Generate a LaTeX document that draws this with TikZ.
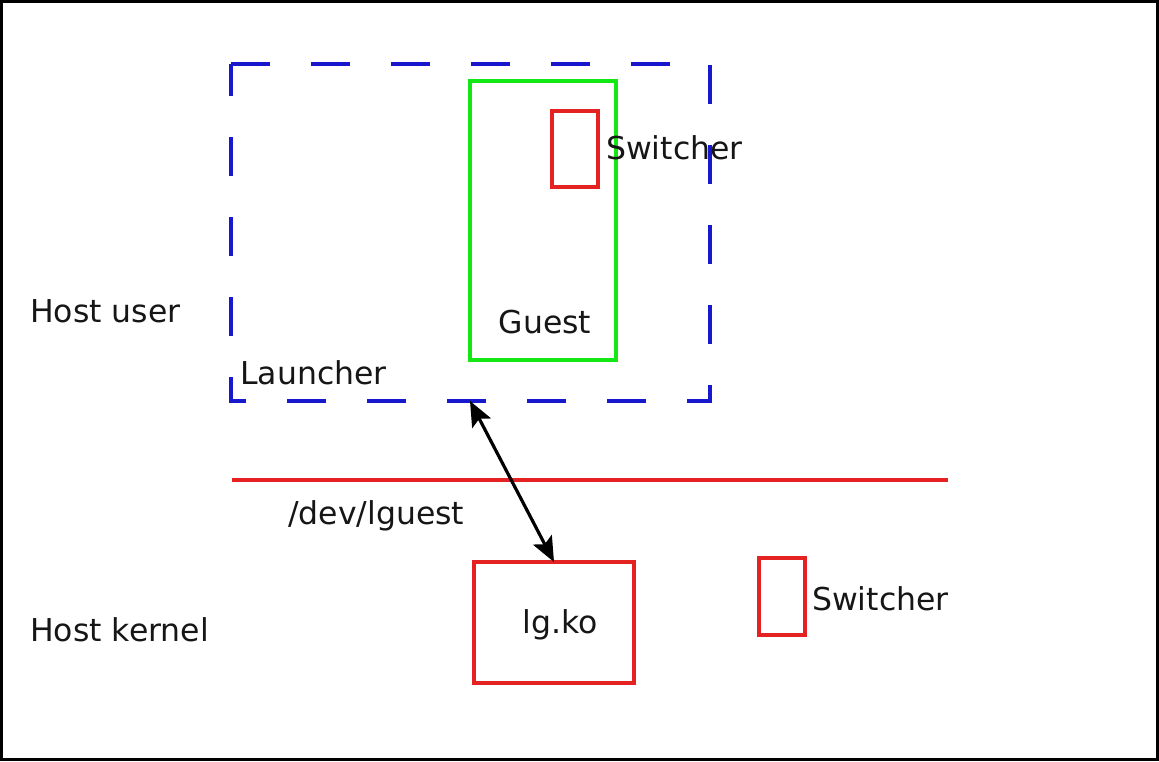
\documentclass[tikz,border=0pt]{standalone}
\usepackage{fontspec}
\setmainfont{DejaVu Sans}
\usepackage{xcolor}
\usepackage{tikz}
\usetikzlibrary{shapes,arrows,arrows.meta,calc}
\definecolor{launcherblue}{RGB}{24,24,205}
\definecolor{guestgreen}{RGB}{20,232,20}
\definecolor{switchred}{RGB}{228,34,34}
\definecolor{textgray}{RGB}{22,22,22}

\begin{document}
\begin{tikzpicture}[
    x=1pt, y=-1pt,
    box/.style={
      rectangle,
      draw,
      line width=3.2pt,
      inner sep=0pt,
      outer sep=0pt,
      anchor=north west
    },
    label/.style={
      inner sep=0pt,
      text=textgray,
      font=\fontsize{31.5}{37}\selectfont
    },
    line/.style={draw, line width=3.2pt},
    dashline/.style={draw=launcherblue, line width=3.6pt, dash pattern=on 39pt off 41pt},
    link/.style={draw, line width=3.2pt, {Stealth[length=25pt,width=21pt,inset=5pt]}-{Stealth[length=25pt,width=21pt,inset=5pt]}},
]
    \useasboundingbox (0,0) rectangle (1159,761);
    \draw [line width=3pt] (1.5,1.5) rectangle (1157.5,759.5);

    % user space
    \node [box, draw=none, minimum width=479pt, minimum height=337pt] (launcher) at (231,64) {};
    \path [dashline] (launcher.north west) -- (launcher.north east) -- (launcher.south east)
      -- (launcher.south west) -- cycle;
    \node [box, draw=guestgreen, minimum width=146pt, minimum height=279pt] (guest) at (470,81) {};
    \node [box, draw=switchred, minimum width=46pt, minimum height=76pt] (switchup) at (552,111) {};

    % user/kernel boundary
    \coordinate (bordera) at (232,480);
    \coordinate (borderb) at (948,480);
    \path [line, draw=switchred] (bordera) -- (borderb);

    % kernel space
    \node [box, draw=switchred, minimum width=160pt, minimum height=121pt] (lgko) at (474,562) {};
    \node [box, draw=switchred, minimum width=46pt, minimum height=77pt] (switchdown) at (759,558) {};

    \path [link] (guest.south west |- launcher.south) -- (lgko.north);

    % texts
    \node [label, anchor=base west] (hostuser) at (30,322) {Host user};
    \node [label, anchor=base west] (hostkernel) at (30,641) {Host kernel};
    \node [label, anchor=base west] (launchertext) at (240,384) {Launcher};
    \node [label, anchor=base] (guesttext) at (545,333) {Guest};
    \node [label, anchor=base west] (switchuptext) at (606,159) {Switcher};
    \node [label, anchor=base west] (devtext) at (288,524) {/dev/lguest};
    \node [label, anchor=base] (lgkotext) at (560,633) {lg.ko};
    \node [label, anchor=base west] (switchdowntext) at (812,610) {Switcher};
\end{tikzpicture}
\end{document}
